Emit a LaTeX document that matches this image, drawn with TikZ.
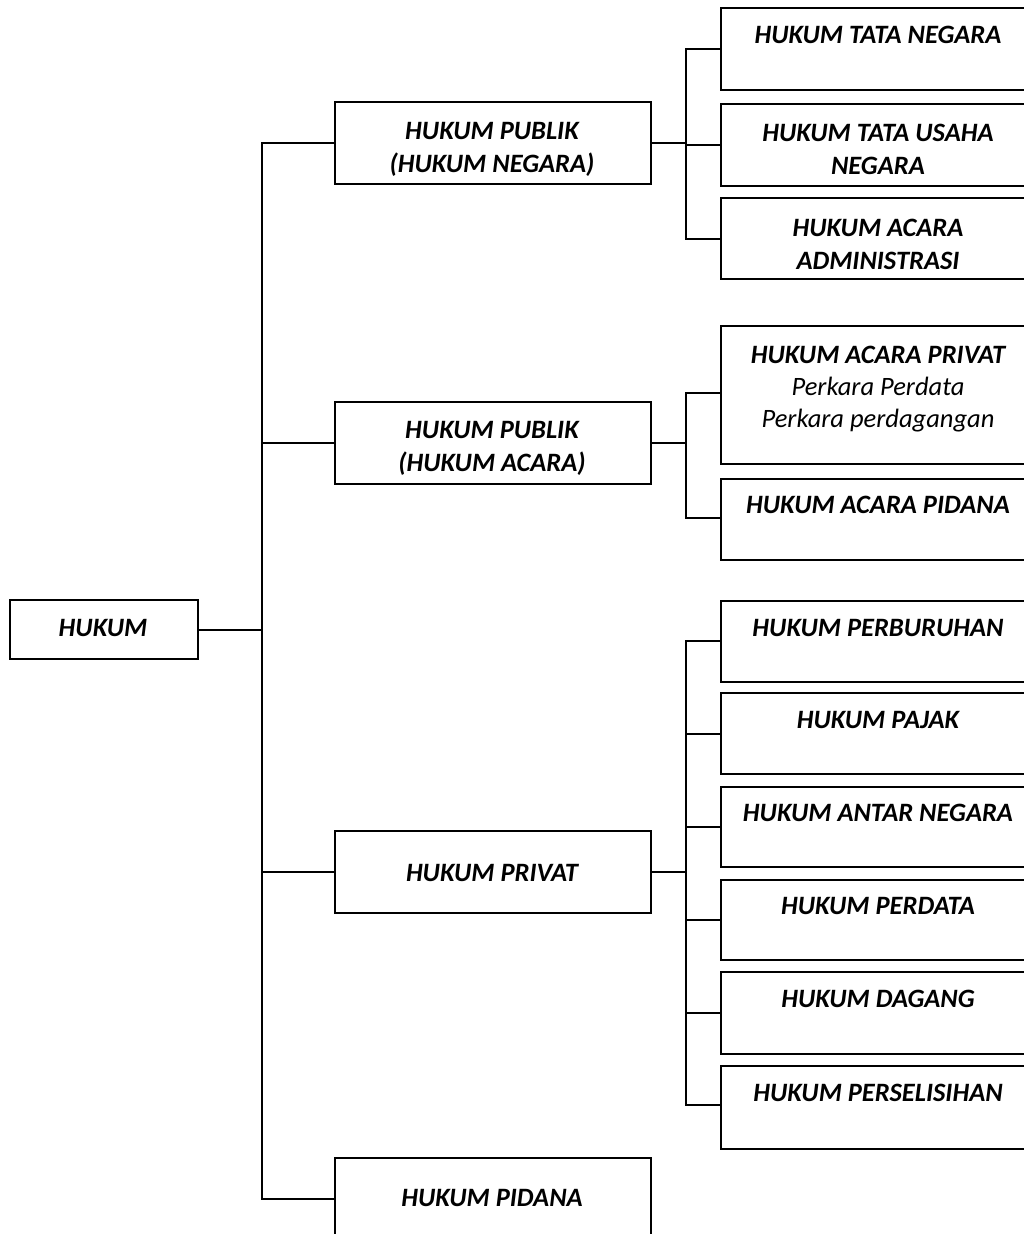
\documentclass[tikz,border=0pt]{standalone}
\usepackage{fontspec}
\setmainfont{Carlito}
\begin{document}
\begin{tikzpicture}[x=1pt,y=-1pt,line width=2pt,
  box/.style={draw,rectangle,anchor=north west,inner sep=0pt,minimum height=82pt},
  lvlone/.style={box,minimum width=316pt},
  lvltwo/.style={box,minimum width=316pt},
  lbl/.style={font=\fontsize{26.5}{33}\selectfont\bfseries\itshape,align=center,inner sep=0pt}]
\useasboundingbox (0,0) rectangle (1024,1234);
\clip (0,0) rectangle (1024,1234);

% root
\node[box,minimum width=188pt,minimum height=59pt] (hukum) at (9,599) {};
\node[lbl] (hukum-t) at (103,628) {HUKUM};

% first level
\node[lvlone] (pn) at (334,101) {};
\node[lbl] (pn-t) at (492,149) {HUKUM PUBLIK\\(HUKUM NEGARA)};
\node[lvlone] (pa) at (334,401) {};
\node[lbl] (pa-t) at (492,448) {HUKUM PUBLIK\\(HUKUM ACARA)};
\node[lvlone] (pv) at (334,830) {};
\node[lbl] (pv-t) at (492,873) {HUKUM PRIVAT};
\node[lvlone] (pd) at (334,1157) {};
\node[lbl] (pd-t) at (492,1198) {HUKUM PIDANA};

% second level, public (state) law
\node[lvltwo] (tn) at (720,7) {};
\node[lbl] (tn-t) at (878,35) {HUKUM TATA NEGARA};
\node[lvltwo] (tu) at (720,103) {};
\node[lbl] (tu-t) at (878,149) {HUKUM TATA USAHA\\NEGARA};
\node[lvltwo,minimum height=81pt] (aa) at (720,197) {};
\node[lbl] (aa-t) at (878,244) {HUKUM ACARA\\ADMINISTRASI};

% second level, procedural law
\node[lvltwo,minimum height=138pt] (ap) at (720,325) {};
\node[lbl,font=\fontsize{26.5}{32}\selectfont\bfseries\itshape] (ap-t) at (878,389) {HUKUM ACARA PRIVAT\\{\mdseries Perkara Perdata}\\{\mdseries Perkara perdagangan}};
\node[lvltwo,minimum height=81pt] (ad) at (720,478) {};
\node[lbl] (ad-t) at (878,505) {HUKUM ACARA PIDANA};

% second level, private law
\node[lvltwo,minimum height=81pt] (pb) at (720,600) {};
\node[lbl] (pb-t) at (878,628) {HUKUM PERBURUHAN};
\node[lvltwo,minimum height=81pt] (pj) at (720,692) {};
\node[lbl] (pj-t) at (878,720) {HUKUM PAJAK};
\node[lvltwo,minimum height=80pt] (an) at (720,786) {};
\node[lbl] (an-t) at (878,813) {HUKUM ANTAR NEGARA};
\node[lvltwo,minimum height=80pt] (pr) at (720,879) {};
\node[lbl] (pr-t) at (878,906) {HUKUM PERDATA};
\node[lvltwo] (dg) at (720,971) {};
\node[lbl] (dg-t) at (878,999) {HUKUM DAGANG};
\node[lvltwo,minimum height=83pt] (ps) at (720,1065) {};
\node[lbl] (ps-t) at (878,1093) {HUKUM PERSELISIHAN};

% bus lines
\coordinate (bus0) at (262,0);
\coordinate (bus1) at (686,0);

% root to first level
\draw (hukum.east) -- (hukum.east -| bus0);
\draw (pn.west) -- (pn.west -| bus0) -- (pd.west -| bus0) -- (pd.west);
\draw (pa.west) -- (pa.west -| bus0);
\draw (pv.west) -- (pv.west -| bus0);

% first level to second level
\coordinate (jn) at (686,49);
\draw (pn.east) -- (pn.east -| bus1);
\draw (tn.west |- jn) -- (jn) -- (aa.west -| bus1) -- (aa.west);
\draw (tu.west) -- (tu.west -| bus1);

\coordinate (ja) at (686,393);
\coordinate (jb) at (686,518);
\draw (pa.east) -- (pa.east -| bus1);
\draw (ap.west |- ja) -- (ja) -- (jb) -- (ad.west |- jb);

\coordinate (jp) at (686,641);
\coordinate (jq) at (686,1105);
\draw (pv.east) -- (pv.east -| bus1);
\draw (pb.west |- jp) -- (jp) -- (jq) -- (ps.west |- jq);
\draw (pj.west) -- (pj.west -| bus1);
\draw (an.west) -- (an.west -| bus1);
\draw (pr.west) -- (pr.west -| bus1);
\draw (dg.west) -- (dg.west -| bus1);
\end{tikzpicture}
\end{document}
